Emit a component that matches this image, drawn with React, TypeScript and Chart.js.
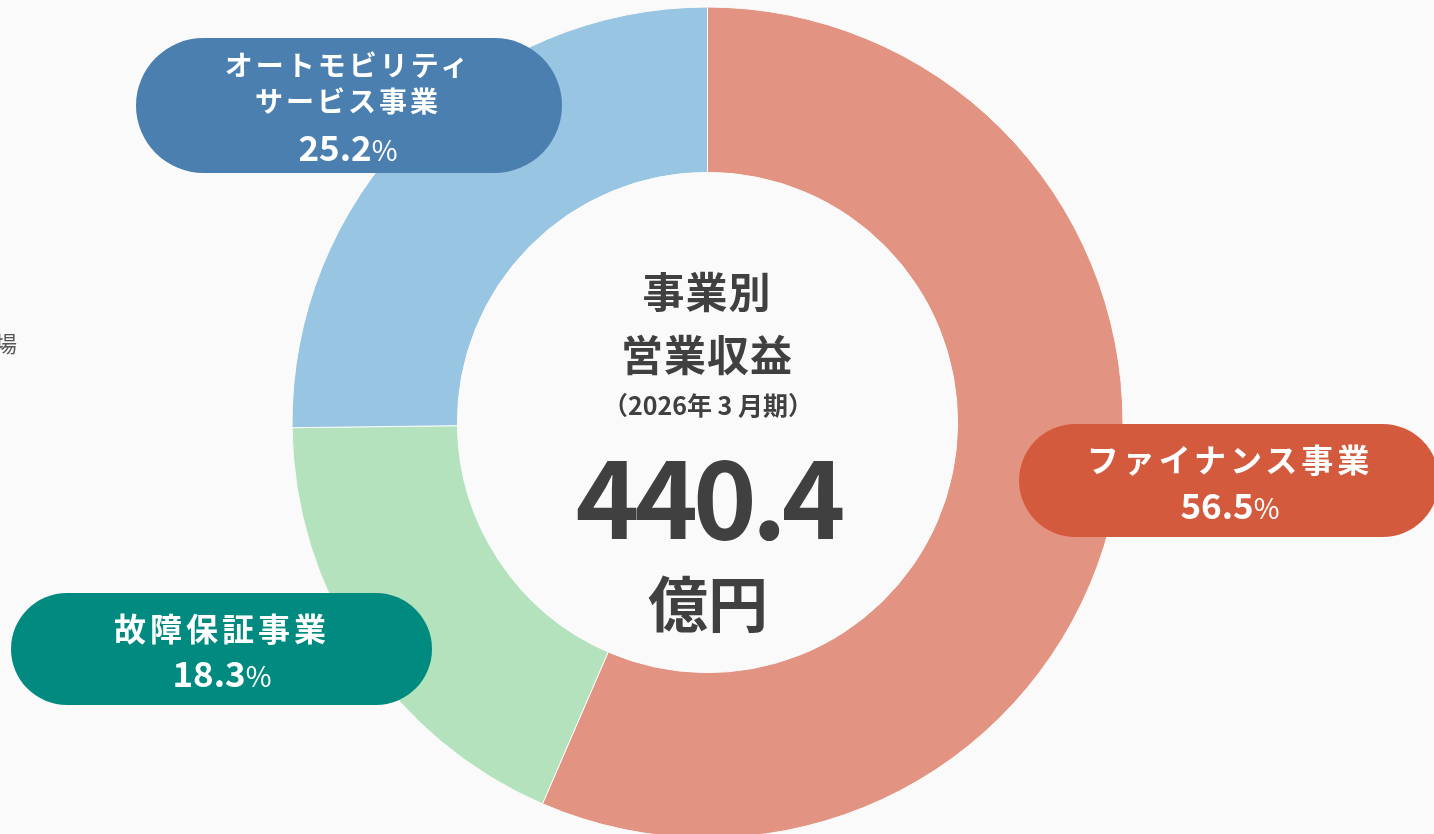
import React, { useEffect, useRef } from "react";
import { Chart, registerables } from "chart.js";

Chart.register(...registerables);

// ---- data ----
const categories = ["ファイナンス事業", "故障保証事業", "オートモビリティサービス事業"];
const labelLines = [["ファイナンス事業"], ["故障保証事業"], ["オートモビリティ", "サービス事業"]];
const shares = [56.5, 18.3, 25.2];
const sliceColors = ["#E29381", "#B3E2BD", "#98C5E1"];
const pillColors = ["#D45A3D", "#008A80", "#4A7FB0"];
const centerTitle = ["事業別", "営業収益"];
const centerPeriod = "（2026年 3 月期）";
const centerTotal = "440.4";
const centerUnit = "億円";
const edgeFragment = "場";

// ---- layout (presentation only) ----
const FONT = '"Noto Sans CJK JP", "Noto Sans", sans-serif';
const pillLayout = [
  { left: 1019, top: 424, width: 420, height: 113, lineY: [458], pctY: 503, cx: 1230, font: 32, ls: 4 },
  { left: 11, top: 593, width: 421, height: 112, lineY: [627], pctY: 671, cx: 222, font: 32, ls: 4 },
  { left: 136, top: 38, width: 426, height: 135, lineY: [65, 101], pctY: 145, cx: 348, font: 28, ls: 3 },
];

const W = 1434;
const H = 834;
const CANVAS_H = 845;

function Line(props: { text: React.ReactNode; cx: number; cy: number; size: number; weight?: number; color: string; ls?: number; lh?: number }) {
  const lh = props.lh ?? props.size * 1.4;
  return (
    <div
      style={{
        position: "absolute",
        left: props.cx - 400,
        width: 800,
        top: props.cy - lh / 2,
        height: lh,
        lineHeight: lh + "px",
        textAlign: "center",
        fontFamily: FONT,
        fontSize: props.size,
        fontWeight: props.weight ?? 700,
        color: props.color,
        letterSpacing: props.ls ?? 0,
        whiteSpace: "nowrap",
        pointerEvents: "none",
      }}
    >
      {props.text}
    </div>
  );
}

export default function App() {
  const ref = useRef<HTMLCanvasElement | null>(null);

  useEffect(() => {
    document.body.style.margin = "0";
    const canvas = ref.current!;
    const chart = new Chart(canvas, {
      type: "doughnut",
      data: {
        labels: categories,
        datasets: [
          {
            data: shares,
            backgroundColor: sliceColors,
            borderColor: "#FAFAFA",
            borderWidth: 1,
            hoverOffset: 0,
            hoverBorderWidth: 1,
          },
        ],
      },
      options: {
        responsive: false,
        animation: false,
        rotation: 0,
        radius: 415.5,
        cutout: "60.2%",
        layout: { padding: { left: 0, right: W - 2 * 707.5, top: 0, bottom: 0 } },
        plugins: { legend: { display: false }, tooltip: { enabled: false } },
        events: [],
      },
    });
    return () => chart.destroy();
  }, []);

  const dark = "#404040";

  return (
    <div style={{ position: "fixed", left: 0, top: 0, width: W, height: H, overflow: "hidden", background: "#FAFAFA" }}>
      <canvas ref={ref} width={W} height={CANVAS_H} style={{ position: "absolute", left: 0, top: 0, width: W, height: CANVAS_H }} />

      <Line text={edgeFragment} cx={6} cy={342} size={22} weight={400} color="#555" />

      <Line text={centerTitle[0]} cx={707} cy={290} size={42} color={dark} ls={1} />
      <Line text={centerTitle[1]} cx={707} cy={353} size={42} color={dark} ls={1} />
      <Line text={centerPeriod} cx={708} cy={404} size={25} color={dark} />
      <Line text={centerTotal} cx={708} cy={492} size={108} color={dark} ls={-5} lh={130} />
      <Line text={centerUnit} cx={708} cy={601} size={60} color={dark} />

      {pillLayout.map((p, i) => (
        <div
          key={i}
          style={{
            position: "absolute",
            left: p.left,
            top: p.top,
            width: p.width,
            height: p.height,
            borderRadius: p.height / 2,
            background: pillColors[i],
          }}
        />
      ))}
      {pillLayout.map((p, i) => (
        <React.Fragment key={"t" + i}>
          {labelLines[i].map((t, j) => (
            <Line key={j} text={t} cx={p.cx} cy={p.lineY[j]} size={p.font} color="#FFFFFF" ls={p.ls} />
          ))}
          <Line
            text={
              <>
                {shares[i].toFixed(1)}
                <span style={{ fontSize: "0.8em", fontWeight: 400 }}>%</span>
              </>
            }
            cx={p.cx}
            cy={p.pctY}
            size={35}
            color="#FFFFFF"
          />
        </React.Fragment>
      ))}
    </div>
  );
}
